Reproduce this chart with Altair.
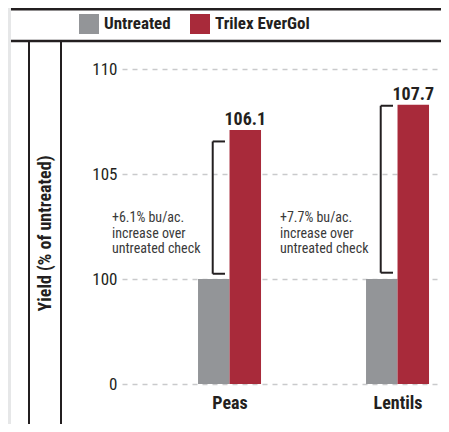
import json
import altair as alt
import pandas as pd

# ---------------- data ----------------
categories = ["Peas", "Lentils"]
series = ["Untreated", "Trilex EverGol"]
untreated = [100.0, 100.0]
trilex_bar = [107.1, 108.3]          # bar tops as drawn against the (broken) axis
trilex_label = ["106.1", "107.7"]
bracket_low = [100.25, 100.3]
bracket_high = [106.55, 108.25]
notes = ["+6.1% bu/ac.\nincrease over\nuntreated check",
         "+7.7% bu/ac.\nincrease over\nuntreated check"]
tick_values = [0, 100, 105, 110]
tick_labels = ["0", "100", "105", "110"]

# ---------------- style ----------------
FONT = "Liberation Sans Narrow, Roboto Condensed, DejaVu Sans Condensed, sans-serif"
INK = "#231f20"
GRAY = "#939598"
RED = "#a82a3a"
GRID = "#c9cacc"
BW = 0.1875          # bar width in category units
BX, BX2 = -0.10, -0.027   # bracket spine / tick end (category units)
NOTE_DX = -0.70
NOTE_V = 103.22
PW, PH = 319, 315    # plot area


def pos_py(v):
    return v / 100 if v <= 100 else 1 + (v - 100) / 5


def pos(field):
    return f"(datum.{field} <= 100 ? datum.{field} / 100 : 1 + (datum.{field} - 100) / 5)"


XS = alt.Scale(domain=[-0.64, -0.64 + PW / 168], nice=False, zero=False)
YS = alt.Scale(domain=[0, 3], nice=False, zero=False)
XAX = alt.Axis(values=list(range(len(categories))),
               labelExpr=f"{json.dumps(categories)}[round(datum.value)]",
               title=None, grid=False, ticks=False, domain=False,
               labelFont=FONT, labelFontSize=18, labelFontWeight="bold",
               labelColor=INK, labelPadding=10)
YAX = alt.Axis(values=[pos_py(v) for v in tick_values],
               labelExpr=f"{json.dumps(tick_labels)}[round(datum.value)]",
               title="Yield (% of untreated)", titleFont=FONT, titleFontSize=18,
               titleFontWeight="bold", titleColor=INK, titleAngle=270,
               titleX=-77, titleY=164, titleAlign="center", titleBaseline="middle",
               grid=True, gridDash=[5, 5], gridColor=GRID, gridWidth=1.3,
               ticks=False, domain=False, labelFont=FONT, labelFontSize=17,
               labelColor=INK, labelPadding=5)
XE = alt.X("px:Q", scale=XS, axis=XAX)
YE = alt.Y("py:Q", scale=YS, axis=YAX)

rows = []
for ci, cat in enumerate(categories):
    for si, (s, vals) in enumerate(zip(series, [untreated, trilex_bar])):
        rows.append({"ci": ci, "si": si, "series": s, "v": vals[ci]})
bars_df = pd.DataFrame(rows)

bars = alt.Chart(bars_df).transform_calculate(
    px=f"datum.ci + (datum.si - 1) * {BW}",
    px2=f"datum.ci + datum.si * {BW}",
    py=pos("v"),
    py2="0",
).mark_rect().encode(
    x=XE, x2="px2:Q", y=YE, y2="py2:Q",
    color=alt.Color("series:N", scale=alt.Scale(domain=series, range=[GRAY, RED]),
                    legend=alt.Legend(title=None, orient="none", direction="horizontal",
                                      legendX=-43, legendY=-55, symbolType="square",
                                      symbolSize=400, symbolStrokeWidth=0, symbolOpacity=1,
                                      labelFont=FONT, labelFontSize=17, labelFontWeight="bold",
                                      labelColor=INK, labelOffset=5, columnPadding=19,
                                      padding=0)),
)

lab_df = pd.DataFrame({"ci": list(range(len(categories))), "v": trilex_bar, "label": trilex_label})
labels = alt.Chart(lab_df).transform_calculate(
    px=f"datum.ci + {BW / 2}", py=pos("v"),
).mark_text(dy=-5, baseline="alphabetic", font=FONT, fontSize=18,
            fontWeight="bold", color=INK).encode(x=XE, y=YE, text="label:N")

br_df = pd.DataFrame({"ci": list(range(len(categories))), "lo": bracket_low, "hi": bracket_high})
spine = alt.Chart(br_df).transform_calculate(
    px=f"datum.ci + {BX}", py=pos("lo"), py2=pos("hi"),
).mark_rule(color=INK, strokeWidth=2).encode(x=XE, y=YE, y2="py2:Q")
ticks = alt.Chart(br_df).transform_fold(["lo", "hi"], as_=["k", "val"]).transform_calculate(
    px=f"datum.ci + {BX}", px2=f"datum.ci + {BX2}", py=pos("val"),
).mark_rule(color=INK, strokeWidth=2).encode(x=XE, x2="px2:Q", y=YE)

note_df = pd.DataFrame({"ci": list(range(len(categories))), "note": notes})
note_txt = alt.Chart(note_df).transform_calculate(
    px=f"datum.ci + {NOTE_DX}", py=str(pos_py(NOTE_V)),
).mark_text(align="left", baseline="top", lineBreak="\n", lineHeight=15.5,
            font=FONT, fontSize=14, color="#3a3a3a").encode(x=XE, y=YE, text="note:N")

one = pd.DataFrame({"a": [0]})
strip = alt.Chart(one).mark_rect(color="#e6e7e8").encode(
    x=alt.value(-114), x2=alt.value(-111), y=alt.value(-61), y2=alt.value(355))
top_rule = alt.Chart(one).mark_rule(color=INK, strokeWidth=3).encode(
    x=alt.value(-111), x2=alt.value(PW), y=alt.value(-60))
mid_rule = alt.Chart(one).mark_rule(color=INK, strokeWidth=2.5).encode(
    x=alt.value(-111), x2=alt.value(PW), y=alt.value(-28))
v1 = alt.Chart(one).mark_rule(color=INK, strokeWidth=2).encode(
    x=alt.value(-93), y=alt.value(-28), y2=alt.value(355))
v2 = alt.Chart(one).mark_rule(color=INK, strokeWidth=2).encode(
    x=alt.value(-61), y=alt.value(-28), y2=alt.value(355))

chart = alt.layer(
    strip, top_rule, mid_rule, v1, v2, bars, spine, ticks, labels, note_txt
).properties(
    width=PW, height=PH,
    padding={"left": 114, "top": 61, "right": 0, "bottom": 40},
    autosize=alt.AutoSizeParams(type="none"),
    background="white",
).configure_view(stroke=None)

chart.save("out.html", embed_options={"renderer": "svg", "actions": False})
